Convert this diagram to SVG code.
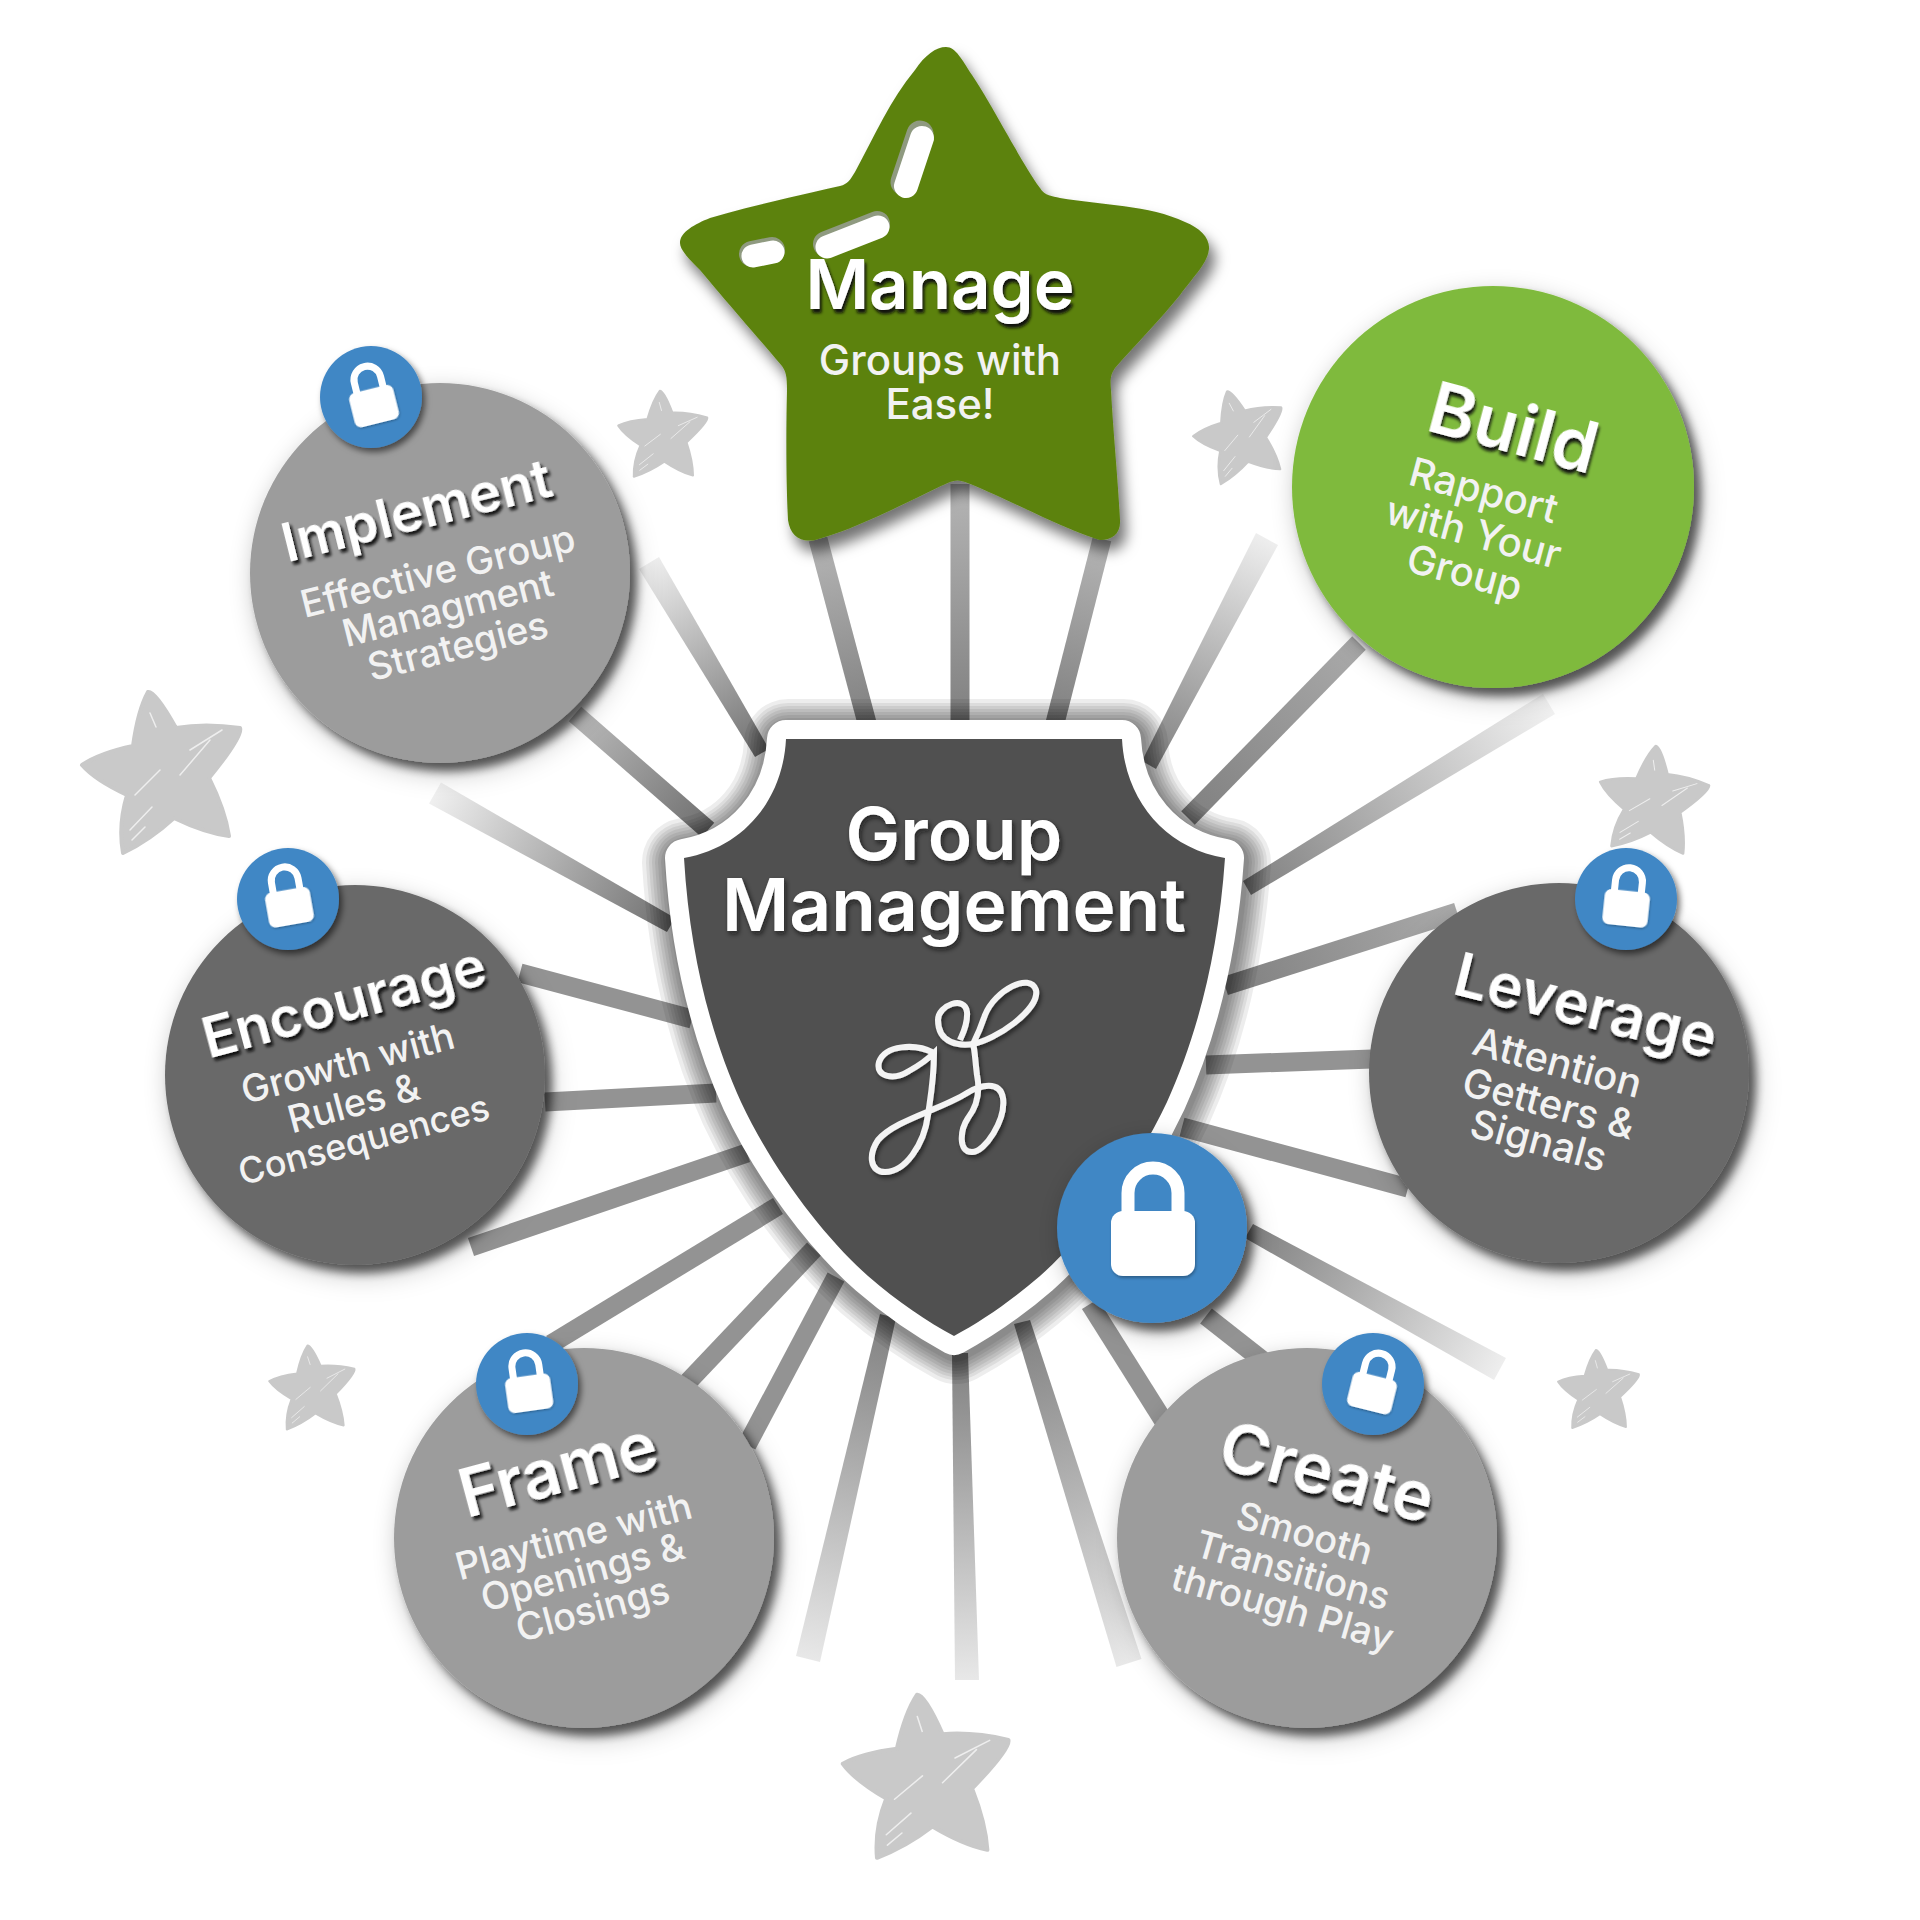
<svg xmlns="http://www.w3.org/2000/svg" xmlns:xlink="http://www.w3.org/1999/xlink" width="1920" height="1920" viewBox="0 0 1920 1920">
<style>
text{font-family:"Inter","Noto Sans","Liberation Sans",sans-serif;fill:#fff;text-anchor:middle}
.t{font-weight:600;font-size:60px;filter:url(#ts)}
.s{font-weight:500;font-size:38px;fill:#f2f2f2}
.m{font-weight:600;font-size:73px;filter:url(#tm)}
.ray{fill:none;stroke-width:19;stroke:#939393}
.mid{fill:#696969}.lt{fill:#9c9c9c}.gr{fill:#7fba3d}
.c{filter:url(#cs)}
.bl{fill:#4187c5;filter:url(#ls)}
.bg{fill:#c9c9c9;stroke:#c9c9c9;stroke-width:4;stroke-linejoin:round}
.sc{fill:none;stroke:#eee;stroke-width:1.5;stroke-linecap:round}
.lb{fill:#fff;filter:url(#li)}
.slot{fill:none;stroke-linecap:round;stroke:#fff}
.sg{fill:none;stroke-linecap:round;stroke:#8f9a80}
.hl{fill:none;stroke:#000;stroke-opacity:.07;stroke-linejoin:round}
</style>
<defs>
<filter id="ts" x="-10%" y="-30%" width="120%" height="170%"><feDropShadow dx="2" dy="4" stdDeviation="1.4" flood-color="#111" flood-opacity=".95"/></filter>
<filter id="tm" x="-10%" y="-30%" width="120%" height="170%"><feDropShadow dx="2" dy="3" stdDeviation="2.5" flood-color="#111" flood-opacity=".7"/></filter>
<filter id="cs" x="-15%" y="-15%" width="140%" height="140%"><feDropShadow dx="7" dy="8" stdDeviation="5" flood-color="#000" flood-opacity=".6"/><feDropShadow dx="2" dy="6" stdDeviation="11" flood-color="#000" flood-opacity=".22"/></filter>
<filter id="ls" x="-20%" y="-20%" width="145%" height="145%"><feDropShadow dx="3" dy="4" stdDeviation="3" flood-color="#000" flood-opacity=".55"/></filter>
<filter id="li" x="-20%" y="-20%" width="145%" height="145%"><feDropShadow dx="1" dy="2" stdDeviation="1.5" flood-color="#000" flood-opacity=".3"/></filter>
<filter id="st" x="-15%" y="-15%" width="130%" height="135%"><feDropShadow dx="6" dy="11" stdDeviation="7" flood-color="#000" flood-opacity=".55"/></filter>
<filter id="lg" x="-15%" y="-15%" width="130%" height="130%"><feGaussianBlur stdDeviation=".6"/><feDropShadow dx="2" dy="3" stdDeviation="2" flood-color="#000" flood-opacity=".5"/></filter>
<path id="sh" d="M786 739H1122C1125 800 1165 848 1225 858C1218 960 1195 1040 1167 1102C1135 1170 1085 1236 1040 1276C1010 1302 980 1322 954 1336C928 1322 898 1302 868 1276C823 1236 773 1170 741 1102C713 1040 690 960 684 858C743 848 783 800 786 739Z"/>
<g id="lock"><rect class="lb" x="-42" y="-17" width="84" height="65" rx="12"/><path d="M-25-15V-35A25 25 0 0 1 25-35V-15" fill="none" stroke="#fff" stroke-width="13"/></g>
<g id="bs"><path class="bg" d="M-12-83Q-5-85 16-47Q45-52 80-47Q84-40 49 3Q65 35 69 61Q45 58 14 43Q-10 65-37 78Q-42 50-33 20Q-65 5-78-10Q-60-22-27-29Q-22-65-12-83Z"/><path class="sc" d="M-10-62L-4-48M-25 20L0-5M20 0L50-35M30-25L62-45M-30 55L-8 32M-28 65L-15 52"/></g>
<linearGradient id="g1" gradientUnits="userSpaceOnUse" x1="867" y1="723" x2="818" y2="539"><stop offset="0" stop-color="#808080"/><stop offset="1" stop-color="#b5b5b5"/></linearGradient>
<linearGradient id="g2" gradientUnits="userSpaceOnUse" x1="960" y1="723" x2="960" y2="484"><stop offset="0" stop-color="#808080"/><stop offset="1" stop-color="#b5b5b5"/></linearGradient>
<linearGradient id="g3" gradientUnits="userSpaceOnUse" x1="1055" y1="723" x2="1102" y2="539"><stop offset="0" stop-color="#808080"/><stop offset="1" stop-color="#b5b5b5"/></linearGradient>
<linearGradient id="g4" gradientUnits="userSpaceOnUse" x1="1149" y1="765" x2="1267" y2="539"><stop offset="0" stop-color="#808080"/><stop offset="1" stop-color="#eee"/></linearGradient>
<linearGradient id="g5" gradientUnits="userSpaceOnUse" x1="1188" y1="818" x2="1359" y2="643"><stop offset="0" stop-color="#808080"/><stop offset="1" stop-color="#aaa"/></linearGradient>
<linearGradient id="g6" gradientUnits="userSpaceOnUse" x1="1247" y1="888" x2="1549" y2="704"><stop offset="0" stop-color="#808080"/><stop offset="1" stop-color="#f2f2f2"/></linearGradient>
<linearGradient id="g7" gradientUnits="userSpaceOnUse" x1="1225" y1="986" x2="1457" y2="912"><stop offset="0" stop-color="#808080"/><stop offset="1" stop-color="#aaa"/></linearGradient>
<linearGradient id="g10" gradientUnits="userSpaceOnUse" x1="1249" y1="1231" x2="1500" y2="1369"><stop offset="0" stop-color="#808080"/><stop offset="1" stop-color="#eee"/></linearGradient>
<linearGradient id="g13" gradientUnits="userSpaceOnUse" x1="1022" y1="1322" x2="1129" y2="1663"><stop offset="0" stop-color="#808080"/><stop offset="1" stop-color="#e8e8e8"/></linearGradient>
<linearGradient id="g14" gradientUnits="userSpaceOnUse" x1="960" y1="1353" x2="967" y2="1680"><stop offset="0" stop-color="#808080"/><stop offset="1" stop-color="#e8e8e8"/></linearGradient>
<linearGradient id="g15" gradientUnits="userSpaceOnUse" x1="888" y1="1316" x2="808" y2="1659"><stop offset="0" stop-color="#808080"/><stop offset="1" stop-color="#e8e8e8"/></linearGradient>
<linearGradient id="g22" gradientUnits="userSpaceOnUse" x1="671" y1="925" x2="435" y2="793"><stop offset="0" stop-color="#707070"/><stop offset="1" stop-color="#f0f0f0"/></linearGradient>
<linearGradient id="g24" gradientUnits="userSpaceOnUse" x1="762" y1="753" x2="649" y2="563"><stop offset="0" stop-color="#707070"/><stop offset="1" stop-color="#eee"/></linearGradient>
<linearGradient id="g23" gradientUnits="userSpaceOnUse" x1="708" y1="830" x2="575" y2="714"><stop offset="0" stop-color="#707070"/><stop offset="1" stop-color="#bbb"/></linearGradient>
</defs>
<rect width="1920" height="1920" fill="#fff"/>
<g id="stars">
<use xlink:href="#bs" href="#bs" transform="translate(160 775)"/>
<use xlink:href="#bs" href="#bs" transform="translate(660 437) rotate(8) scale(.55)"/>
<use xlink:href="#bs" href="#bs" transform="translate(1238 438) rotate(-5) scale(.57)"/>
<use xlink:href="#bs" href="#bs" transform="translate(1649 802) rotate(15) scale(.67)"/>
<use xlink:href="#bs" href="#bs" transform="translate(310 1390) rotate(5) scale(.53)"/>
<use xlink:href="#bs" href="#bs" transform="translate(1596 1392) rotate(8) scale(.5)"/>
<use xlink:href="#bs" href="#bs" transform="translate(922 1781) rotate(5) scale(1.03)"/>
</g>
<g id="connectors">
<path class="ray" style="stroke:url(#g1)" d="M867 723L818 539"/>
<path class="ray" style="stroke:url(#g2)" d="M960 723V484"/>
<path class="ray" style="stroke:url(#g3)" d="M1055 723L1102 539"/>
<polygon fill="url(#g4)" points="1156,769 1142,761 1256,533 1278,545"/>
<path class="ray" style="stroke:url(#g5)" d="M1188 818L1359 643"/>
<polygon fill="url(#g6)" points="1251,895 1243,881 1543,694 1555,714"/>
<path class="ray" style="stroke:url(#g7)" d="M1225 986L1457 912"/>
<path class="ray" d="M1206 1065L1372 1059"/>
<path class="ray" d="M1182 1127L1408 1188"/>
<polygon fill="url(#g10)" points="1245,1238 1253,1224 1506,1358 1494,1380"/>
<path class="ray" d="M1206 1316L1262 1360"/>
<path class="ray" d="M1090 1304L1163 1420"/>
<polygon fill="url(#g13)" points="1014,1324 1030,1320 1141.5,1659 1116.5,1667"/>
<polygon fill="url(#g14)" points="952,1353 968,1353 979,1680 955,1680"/>
<polygon fill="url(#g15)" points="896,1318 880,1314 796,1656 820,1662"/>
<path class="ray" d="M836 1277L747 1445"/>
<path class="ray" d="M814 1249L686 1384"/>
<path class="ray" d="M778 1206L551 1344"/>
<path class="ray" d="M747 1153L471 1247"/>
<path class="ray" d="M716 1093L545 1102"/>
<path class="ray" d="M692 1019L520 973"/>
<polygon fill="url(#g22)" points="675,918 667,932 429,803.5 441,782.5"/>
<path class="ray" style="stroke:url(#g23)" d="M708 830L575 714"/>
<polygon fill="url(#g24)" points="769,749 755,757 639,569 659,557"/>
</g>
<g id="manage">
<path filter="url(#st)" fill="#5b820f" d="M946 47C956 47 962 60 972 75C995 110 1020 160 1040 188C1045 196 1052 196 1060 198C1100 205 1150 205 1185 222C1200 228 1210 238 1209 249C1208 262 1195 275 1180 295C1160 320 1135 345 1115 368C1111 374 1110 378 1111 390C1113 430 1118 480 1120 520C1121 534 1112 540 1100 540C1060 528 1000 495 965 482C960 480 955 480 950 482C910 500 860 528 815 540C800 543 790 535 788 520C786 480 786 430 787 390C787 376 786 372 782 366C760 340 725 300 700 270C690 260 680 250 680 243C680 232 695 224 710 218C755 205 800 195 840 186C848 184 850 180 855 172C875 135 890 100 915 70C925 55 936 47 946 47Z"/>
<path class="sg" d="M920 134L904 182" stroke-width="27"/><path class="slot" d="M922 138L906 186" stroke-width="24"/>
<path class="sg" d="M877 224L826 244" stroke-width="26"/><path class="slot" d="M878 227L827 247" stroke-width="23"/>
<path class="sg" d="M772 250L752 254" stroke-width="26"/><path class="slot" d="M773 252L753 256" stroke-width="23"/>
<text class="t" style="font-size:69px" x="940" y="309">Manage</text>
<text class="s" style="font-size:42px" x="940" y="375">Groups with</text>
<text class="s" style="font-size:42px" x="940" y="419">Ease!</text>
</g>
<g id="build">
<circle class="gr c" cx="1493" cy="487" r="201"/>
<text class="t" style="font-size:71px" transform="translate(1507 452) rotate(15)">Build</text>
<text class="s" style="font-size:40px" transform="translate(1480 504) rotate(15)">Rapport</text>
<text class="s" style="font-size:40px" transform="translate(1470 546) rotate(15)">with Your</text>
<text class="s" style="font-size:40px" transform="translate(1461 586) rotate(15)">Group</text>
</g>
<g id="implement">
<circle class="lt c" cx="440" cy="573" r="190"/>
<text class="t" style="font-size:54px" transform="translate(421 529) rotate(-14)">Implement</text>
<text class="s" transform="translate(441 584) rotate(-14)">Effective Group</text>
<text class="s" transform="translate(451 621) rotate(-14)">Managment</text>
<text class="s" transform="translate(461 659) rotate(-14)">Strategies</text>
<circle class="bl" cx="371" cy="397" r="51"/>
<use xlink:href="#lock" href="#lock" transform="translate(372 398) rotate(-14) scale(.54)"/>
</g>
<g id="encourage">
<circle class="mid c" cx="355" cy="1075" r="190"/>
<text class="t" style="font-size:56px" transform="translate(349 1021) rotate(-15)">Encourage</text>
<text class="s" transform="translate(351 1076) rotate(-15)">Growth with</text>
<text class="s" transform="translate(357 1116) rotate(-15)">Rules &amp;</text>
<text class="s" style="font-size:36px" transform="translate(367 1152) rotate(-15)">Consequences</text>
<circle class="bl" cx="288" cy="899" r="51"/>
<use xlink:href="#lock" href="#lock" transform="translate(288 899) rotate(-10) scale(.54)"/>
</g>
<g id="frame">
<circle class="lt c" cx="584" cy="1538" r="190"/>
<text class="t" style="font-size:67px" transform="translate(564 1492) rotate(-15)">Frame</text>
<text class="s" transform="translate(577 1549) rotate(-15)">Playtime with</text>
<text class="s" transform="translate(586 1585) rotate(-15)">Openings &amp;</text>
<text class="s" transform="translate(596 1622) rotate(-15)">Closings</text>
<circle class="bl" cx="527" cy="1384" r="51"/>
<use xlink:href="#lock" href="#lock" transform="translate(528 1385) rotate(-8) scale(.54)"/>
</g>
<g id="create">
<circle class="lt c" cx="1307" cy="1538" r="190"/>
<text class="t" style="font-size:68px" transform="translate(1321 1495) rotate(15)">Create</text>
<text class="s" transform="translate(1301 1546) rotate(16)">Smooth</text>
<text class="s" transform="translate(1289 1583) rotate(16)">Transitions</text>
<text class="s" transform="translate(1279 1620) rotate(16)">through Play</text>
<circle class="bl" cx="1373" cy="1384" r="51"/>
<use xlink:href="#lock" href="#lock" transform="translate(1374 1385) rotate(14) scale(.54)"/>
</g>
<g id="leverage">
<circle class="mid c" cx="1559" cy="1073" r="190"/>
<text class="t" transform="translate(1581 1026) rotate(14)">Leverage</text>
<text class="s" style="font-size:40px" transform="translate(1554 1076) rotate(15)">Attention</text>
<text class="s" style="font-size:40px" transform="translate(1545 1117) rotate(15)">Getters &amp;</text>
<text class="s" style="font-size:40px" transform="translate(1535 1154) rotate(15)">Signals</text>
<circle class="bl" cx="1626" cy="899" r="51"/>
<use xlink:href="#lock" href="#lock" transform="translate(1627 900) rotate(6) scale(.54)"/>
</g>
<g id="shield">
<g transform="translate(2 4)">
<use xlink:href="#sh" href="#sh" class="hl" stroke-width="44"/>
<use xlink:href="#sh" href="#sh" class="hl" stroke-width="50"/>
<use xlink:href="#sh" href="#sh" class="hl" stroke-width="56"/>
<use xlink:href="#sh" href="#sh" class="hl" stroke-width="62"/>
<use xlink:href="#sh" href="#sh" class="hl" stroke-width="68"/>
<use xlink:href="#sh" href="#sh" class="hl" stroke-width="74"/>
<use xlink:href="#sh" href="#sh" class="hl" stroke-width="80"/>
<use xlink:href="#sh" href="#sh" class="hl" stroke-width="88"/>
</g>
<use xlink:href="#sh" href="#sh" fill="#505050" stroke="#fff" stroke-width="38" stroke-linejoin="round" paint-order="stroke"/>
<text class="m" x="954" y="860">Group</text>
<text class="m" x="954" y="931">Management</text>
<g filter="url(#lg)" fill="none" stroke="#f4f4f4" stroke-width="6">
<path d="M934 1053C915 1043 885 1045 879 1062C875 1078 895 1080 909 1071C925 1062 934 1053 934 1053C934 1080 930 1100 928 1115C924 1145 905 1172 885 1172C870 1172 868 1155 878 1140C895 1120 940 1110 967 1093C980 1085 1000 1080 1003 1098C1006 1120 985 1152 972 1152C958 1152 960 1130 968 1118C978 1105 980 1090 977 1075C975 1060 975 1050 973 1044C960 1046 938 1044 938 1020C938 1005 965 995 967 1012C968 1025 962 1035 960 1040"/>
<path d="M973 1044C995 1040 1040 1010 1036 990C1030 972 995 990 985 1015C980 1030 975 1040 973 1044"/>
</g>
<circle class="bl" cx="1152" cy="1228" r="95" style="filter:url(#cs)"/>
<use xlink:href="#lock" href="#lock" transform="translate(1153 1228)"/>
</g>
</svg>
